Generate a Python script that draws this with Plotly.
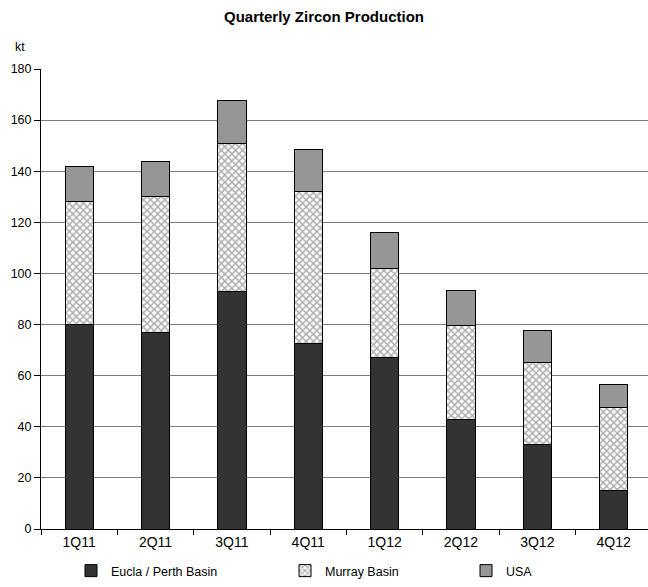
import plotly.graph_objects as go

quarters = ["1Q11", "2Q11", "3Q11", "4Q11", "1Q12", "2Q12", "3Q12", "4Q12"]
eucla_perth = [80, 77, 93, 72.5, 67, 43, 33, 15]
murray = [48, 53, 58, 59.5, 35, 36.5, 32, 32.5]
usa = [14, 14, 16.5, 16.5, 14, 14, 12.5, 9]
y_ticks = [0, 20, 40, 60, 80, 100, 120, 140, 160, 180]

FONT = "Arial, Liberation Sans, sans-serif"
line = dict(color="#000000", width=1)

fig = go.Figure()
fig.add_trace(go.Bar(
    x=quarters, y=eucla_perth, name="Eucla / Perth Basin",
    marker=dict(color="#333333", line=line), legend="legend",
))
fig.add_trace(go.Bar(
    x=quarters, y=murray, name="Murray Basin",
    marker=dict(color="#ffffff", line=line,
                pattern=dict(shape="x", fgcolor="#5e5e5e", bgcolor="#ffffff",
                             size=5, solidity=0.5, fillmode="overlay")),
    legend="legend2",
))
fig.add_trace(go.Bar(
    x=quarters, y=usa, name="USA",
    marker=dict(color="#969696", line=line), legend="legend3",
))

W, H = 648, 587
L, R, T, B = 41, 0, 69, 58
pw, ph = W - L - R, H - T - B

def px_x(x):
    return (x - L) / pw

def px_y(y):
    return (H - B - y) / ph

leg_common = dict(orientation="h", xanchor="left", yanchor="middle",
                  font=dict(family=FONT, size=12.5, color="#000000"),
                  bgcolor="rgba(0,0,0,0)", itemwidth=30, yref="paper")

fig.update_layout(
    width=W, height=H,
    margin=dict(l=L, r=R, t=T, b=B),
    barmode="stack",
    bargap=0.63,
    showlegend=True,
    paper_bgcolor="#ffffff",
    plot_bgcolor="#ffffff",
    font=dict(family=FONT, size=12, color="#000000"),
    title=dict(text="<b>Quarterly Zircon Production</b>", x=0.5, xanchor="center",
               y=1 - 17 / H, yanchor="middle", font=dict(family=FONT, size=15)),
    xaxis=dict(
        range=[-0.5, 7.45],
        showline=True, linecolor="#000000", linewidth=1,
        ticks="outside", tickson="boundaries", ticklen=5, tickcolor="#000000",
        tickfont=dict(family=FONT, size=14),
        showgrid=False,
    ),
    yaxis=dict(
        range=[0, 180], tickvals=y_ticks,
        showline=True, linecolor="#000000", linewidth=1,
        ticks="outside", ticklen=6, tickcolor="#000000",
        tickfont=dict(family=FONT, size=12.5),
        showgrid=True, gridcolor="#7a7a7a", gridwidth=1,
        zeroline=False,
    ),
    legend=dict(x=px_x(71), y=px_y(571), **leg_common),
    legend2=dict(x=px_x(285), y=px_y(571), **leg_common),
    legend3=dict(x=px_x(466), y=px_y(571), **leg_common),
    annotations=[dict(text="kt", xref="paper", yref="paper",
                      x=px_x(20), y=px_y(47), xanchor="center", yanchor="middle",
                      showarrow=False, font=dict(family=FONT, size=12.5))],
)

fig.write_html("out.html", config={"displayModeBar": False},
               post_script="document.body.style.margin='0';document.body.style.padding='0';")
